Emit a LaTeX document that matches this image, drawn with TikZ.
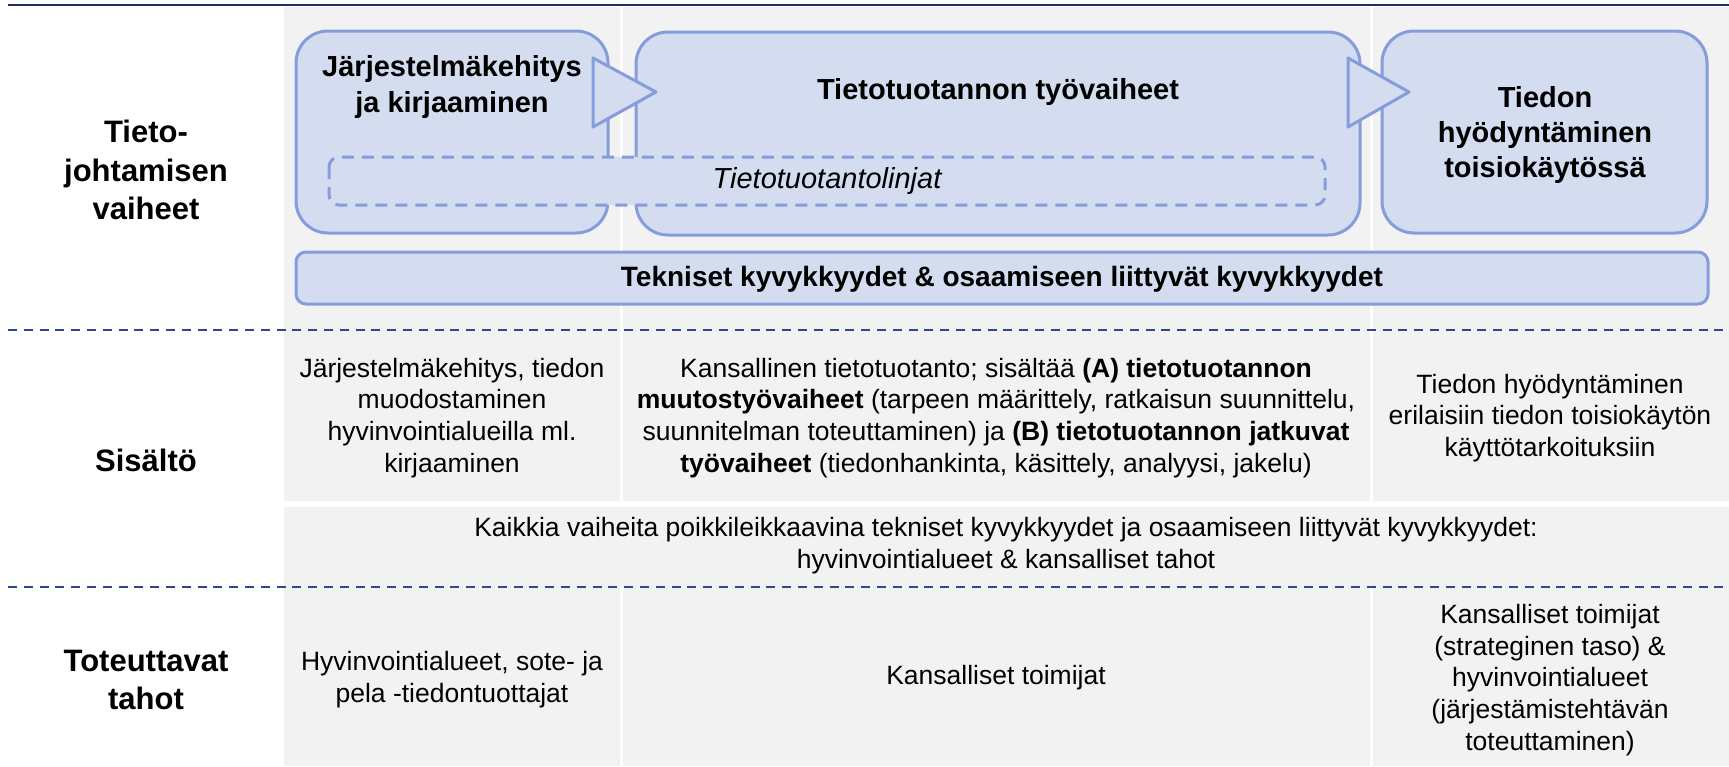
\documentclass[tikz,border=0pt]{standalone}
\usepackage{fontspec}
\setmainfont{Liberation Sans}
\usepackage{tikz}
\definecolor{boxfill}{RGB}{212, 220, 240}
\definecolor{boxline}{RGB}{134, 157, 220}
\definecolor{cellgray}{RGB}{242, 242, 242}
\definecolor{navy}{RGB}{46, 72, 140}
\definecolor{topnavy}{RGB}{31, 48, 96}

\newcommand{\celltxt}{\fontsize{13.25}{15.9}\selectfont}
\newcommand{\boxtxt}{\fontsize{14.5}{17.5}\selectfont\bfseries}
\newcommand{\rowlabtxt}{\fontsize{15.5}{19.2}\selectfont\bfseries}

\tikzset{
  stage/.style={draw=boxline, fill=boxfill, line width=1.5pt, rounded corners=16pt},
  lanebox/.style={draw=boxline, fill=boxfill, line width=1.5pt, rounded corners=5pt,
    dash pattern=on 6pt off 4pt},
  barbox/.style={draw=boxline, fill=boxfill, line width=1.5pt, rounded corners=5pt},
  flowtip/.style={draw=boxline, fill=boxfill, line width=1.5pt, line join=round},
  rowline/.style={navy, line width=1.25pt, dash pattern=on 4.5pt off 3.4pt},
  rowlab/.style={font=\rowlabtxt, align=center, inner sep=0pt},
  boxtitle/.style={font=\boxtxt, align=center, inner sep=0pt},
  celltext/.style={font=\celltxt, align=center, inner sep=0pt}
}

\begin{document}
\begin{tikzpicture}[x=0.5pt, y=-0.5pt]
  \useasboundingbox (0, 0) rectangle (1729, 766);

  % Background cells
  \foreach \a/\b in {284/620, 623/1370, 1373/1729} {
    \fill[cellgray] (\a, 7) rectangle (\b, 501);
    \fill[cellgray] (\a, 587) rectangle (\b, 766);
  }
  \fill[cellgray] (284, 507) rectangle (1729, 587);

  % Row lines
  \draw[topnavy, line width=1.3pt] (8, 5) -- (1729, 5);
  \draw[rowline] (8, 330) -- (1729, 330);
  \draw[rowline] (8, 587) -- (1729, 587);

  % Phases
  \draw[stage] (296, 31) rectangle (608, 233);
  \draw[stage] (636, 32) rectangle (1360, 235);
  \draw[stage] (1382, 31) rectangle (1707, 233);
  \draw[lanebox] (329, 157) rectangle (1325, 205);
  \draw[flowtip] (593, 58) -- (593, 127) -- (656, 92) -- cycle;
  \draw[flowtip] (1348, 58) -- (1348, 127) -- (1409, 92) -- cycle;
  \draw[barbox] (296, 252) rectangle (1708, 304);

  \node[boxtitle] (devtitle) at (452, 87) {Järjestelmäkehitys\\ja kirjaaminen};
  \node[boxtitle] (prodtitle) at (998, 92) {Tietotuotannon työvaiheet};
  \node[boxtitle] (usetitle) at (1545, 135) {Tiedon\\hyödyntäminen\\toisiokäytössä};
  \node[inner sep=0pt, font=\fontsize{14.5}{17.5}\selectfont\itshape] (lanes) at (827, 181) {Tietotuotantolinjat};
  \node[boxtitle, font=\fontsize{14}{17}\selectfont\bfseries] (caps) at (1002, 279)
    {Tekniset kyvykkyydet \& osaamiseen liittyvät kyvykkyydet};

  % Row labels
  \node[rowlab] (phases) at (146, 170) {Tieto-\\johtamisen\\vaiheet};
  \node[rowlab] (content) at (146, 460) {Sisältö};
  \node[rowlab] (actors) at (146, 680) {Toteuttavat\\tahot};

  % Content
  \node[celltext] (devcontent) at (452, 418)
    {Järjestelmäkehitys, tiedon\\muodostaminen\\hyvinvointialueilla ml.\\kirjaaminen};
  \node[celltext] (prodcontent) at (996, 418)
    {Kansallinen tietotuotanto; sisältää \textbf{(A) tietotuotannon}\\
     \textbf{muutostyövaiheet} (tarpeen määrittely, ratkaisun suunnittelu,\\
     suunnitelman toteuttaminen) ja \textbf{(B) tietotuotannon jatkuvat}\\
     \textbf{työvaiheet} (tiedonhankinta, käsittely, analyysi, jakelu)};
  \node[celltext] (usecontent) at (1550, 418)
    {Tiedon hyödyntäminen\\erilaisiin tiedon toisiokäytön\\käyttötarkoituksiin};
  \node[celltext] (crosscontent) at (1006, 546)
    {Kaikkia vaiheita poikkileikkaavina tekniset kyvykkyydet ja osaamiseen liittyvät kyvykkyydet:\\
     hyvinvointialueet \& kansalliset tahot};

  % Actors
  \node[celltext] (devactors) at (452, 680) {Hyvinvointialueet, sote- ja\\pela -tiedontuottajat};
  \node[celltext] (prodactors) at (996, 678) {Kansalliset toimijat};
  \node[celltext] (useactors) at (1550, 680)
    {Kansalliset toimijat\\(strateginen taso) \&\\hyvinvointialueet\\(järjestämistehtävän\\toteuttaminen)};
\end{tikzpicture}
\end{document}
